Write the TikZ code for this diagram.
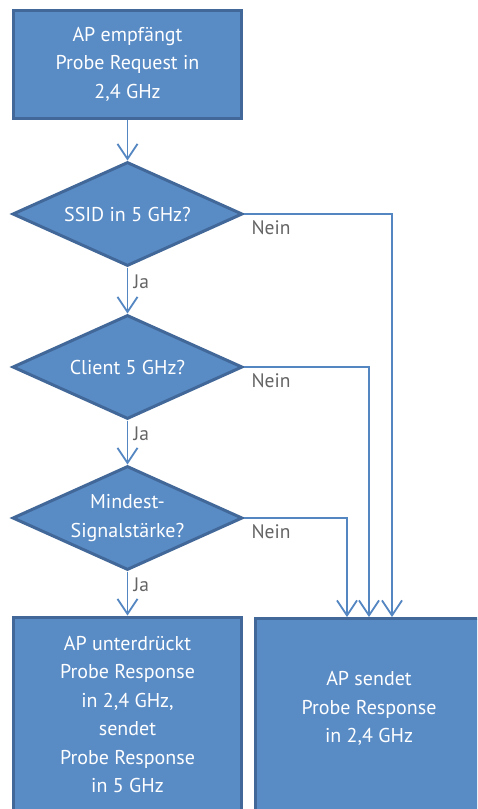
\documentclass[tikz,border=0pt]{standalone}
\usepackage{fontspec}
\setmainfont{PT Sans}
\usetikzlibrary{shapes.geometric,arrows.meta}

\definecolor{boxfill}{RGB}{89,139,197}
\definecolor{boxline}{RGB}{65,104,152}
\definecolor{flowline}{RGB}{84,134,194}
\definecolor{labelgray}{RGB}{100,100,100}

\tikzset{
  procbox/.style={rectangle, draw=boxline, fill=boxfill, line width=3pt,
    minimum width=228pt, text=white, align=center, font=\fontsize{20}{28.5}\selectfont},
  decision/.style={diamond, aspect=2.2, draw=boxline, fill=boxfill, line width=3pt,
    minimum width=230pt, minimum height=104pt, inner sep=0pt, text=white,
    align=center, font=\fontsize{20}{28.5}\selectfont},
  boxtext/.style={text=white, align=center, font=\fontsize{20}{28.5}\selectfont},
  flow/.style={draw=flowline, line width=1.8pt, -{Straight Barb[length=15pt,width=20pt,line width=1.8pt]}},
  answer/.style={text=labelgray, font=\fontsize{19.5}{22}\selectfont}
}

\begin{document}
\begin{tikzpicture}[x=1pt, y=-1pt]
        \clip (0,0) rectangle (477,809);
        \fill[white] (0,0) rectangle (477,809);

        % Draw the boxes
        \node[procbox, minimum height=108pt] (request) at (127.5,64) {AP empfängt\\Probe Request in\\2,4 GHz};
        \node[procbox, minimum height=195pt] (suppress) at (127.5,714.5) {AP unterdrückt\\Probe Response\\in 2,4 GHz,\\sendet\\Probe Response\\in 5 GHz};
        \node[procbox, minimum height=230pt, anchor=north] (send24) at (369,617) {};
        \node[boxtext] (send24text) at (369,708.5) {AP sendet\\Probe Response\\in 2,4 GHz};

        % Draw the decisions
        \node[decision] (ssid) at (127.5,214) {SSID in 5 GHz?};
        \node[decision] (client) at (127.5,367) {Client 5 GHz?};
        \node[decision] (signal) at (127.5,518) {Mindest-\\Signalstärke?};

        % Yes branches
        \draw[flow] (request.south) -- (ssid.north);
        \draw[flow] (ssid.south) -- node[answer, pos=0.3, anchor=west, xshift=2pt] {Ja} (client.north);
        \draw[flow] (client.south) -- node[answer, pos=0.3, anchor=west, xshift=2pt] {Ja} (signal.north);
        \draw[flow] (signal.south) -- node[answer, pos=0.3, anchor=west, xshift=2pt] {Ja} (suppress.north);

        % No branches
        \draw[flow] (ssid.east) -| ([xshift=23pt]send24.north);
        \draw[flow] (client.east) -| (send24.north);
        \draw[flow] (signal.east) -| ([xshift=-22pt]send24.north);
        \node[answer, anchor=north west] at ([xshift=4pt, yshift=-3pt]ssid.east) {Nein};
        \node[answer, anchor=north west] at ([xshift=4pt, yshift=-3pt]client.east) {Nein};
        \node[answer, anchor=north west] at ([xshift=4pt, yshift=-3pt]signal.east) {Nein};
    \end{tikzpicture}
\end{document}
